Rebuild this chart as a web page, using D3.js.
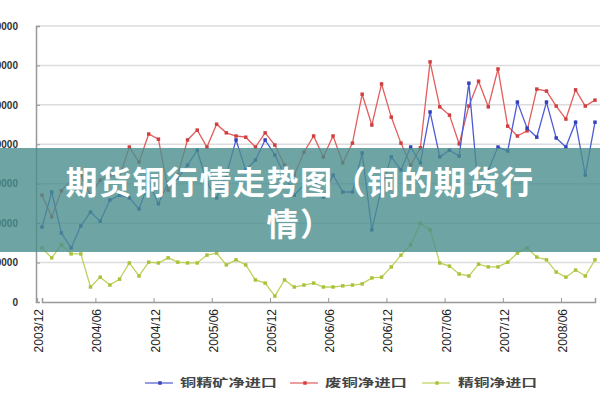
<!DOCTYPE html>
<html><head><meta charset="utf-8">
<script src="https://cdn.jsdelivr.net/npm/d3@7"></script>
<style>html,body{margin:0;padding:0;background:#fff;overflow:hidden}</style>
</head><body>
<svg id="c" width="600" height="400"></svg>
<script>
const tickLabels = ["2003/12","2004/06","2004/12","2005/06","2005/12","2006/06","2006/12","2007/06","2007/12","2008/06"];
const tickIndex = [0,6,12,18,24,30,36,42,48,54];
const yTicks = [0,100000,200000,300000,400000,500000,600000,700000];
// 铜精矿净进口 (tonnes)
const concentrate = [190000,279000,175000,137000,193000,228000,205000,259000,271000,264000,
 236000,302000,249000,302000,314000,347000,385000,302000,264000,322000,
 411000,335000,360000,411000,373000,322000,271000,297000,309000,266000,
 322000,279000,279000,378000,183000,289000,368000,335000,393000,353000,
 482000,368000,385000,370000,555000,276000,335000,393000,383000,507000,
 441000,418000,507000,416000,393000,456000,322000,456000];
// 废铜净进口
const scrap = [271000,216000,282000,309000,322000,271000,309000,322000,317000,393000,
 355000,426000,413000,284000,322000,411000,436000,393000,451000,429000,
 421000,418000,393000,429000,398000,347000,322000,380000,421000,368000,
 421000,353000,403000,527000,449000,553000,469000,403000,347000,391000,
 609000,495000,474000,401000,497000,560000,495000,591000,446000,421000,
 434000,540000,535000,497000,464000,538000,497000,512000];
// 精铜净进口
const refined = [137000,112000,145000,122000,122000,38000,63000,43000,58000,99000,
 66000,101000,99000,112000,101000,99000,99000,119000,124000,94000,
 107000,94000,56000,48000,15000,56000,38000,43000,48000,38000,
 38000,41000,43000,46000,61000,63000,89000,119000,145000,200000,
 183000,99000,91000,71000,66000,96000,89000,89000,101000,124000,
 137000,114000,107000,76000,63000,81000,66000,107000];
const seriesNames = ["铜精矿净进口","废铜净进口","精铜净进口"];
const seriesColors = ["#4d5bd6","#e35d5d","#bcd35a"];
const markerColors = ["#3340b8","#cf3f3f","#a9c23c"];
const titleLines = ["期货铜行情走势图（铜的期货行","情）"];

const svg = d3.select("#c");
const x = d3.scaleLinear().domain([0, 57]).range([42, 595]);
const y = d3.scaleLinear().domain([0, 700000]).range([302, 26]);

// gridlines
svg.append("g").selectAll("line").data(yTicks.slice(1)).join("line")
  .attr("x1", 36).attr("x2", 600).attr("y1", d => y(d)).attr("y2", d => y(d))
  .attr("stroke", "#dcdcdc").attr("stroke-width", 1.5);

// y axis
const yAxis = svg.append("g").attr("transform", "translate(36,0)")
  .call(d3.axisLeft(y).tickValues(yTicks).tickSize(-4).tickPadding(18).tickFormat(d3.format("d")));
yAxis.select(".domain").attr("stroke", "#999").attr("stroke-width", 1.5);
yAxis.selectAll(".tick line").attr("stroke", "#999");
yAxis.selectAll("text").attr("font-family", "Liberation Sans, Arial, sans-serif")
  .attr("font-size", 10).attr("font-weight", "bold").attr("fill", "#333");

// x axis
const xAxis = svg.append("g").attr("transform", "translate(0,302)")
  .call(d3.axisBottom(x).tickValues(tickIndex.map(i => i - 0.5)).tickSize(-4).tickFormat(""));
xAxis.select(".domain").attr("stroke", "#999").attr("stroke-width", 1.5);
xAxis.selectAll(".tick line").attr("stroke", "#999");
svg.append("g").selectAll("text").data(tickIndex).join("text")
  .attr("transform", (d) => `translate(${x(d) - 3},309) rotate(-90)`)
  .attr("text-anchor", "end").attr("dy", "0.35em")
  .attr("font-family", "Liberation Sans, Arial, sans-serif").attr("font-size", 12)
  .attr("fill", "#222").text((d, i) => tickLabels[i]);

// series
const all = [concentrate, scrap, refined];
const line = d3.line().x((d, i) => x(i)).y(d => y(d));
const sym = d3.symbol().type(d3.symbolSquare).size(12);
[1, 0, 2].forEach(k => {
  const g = svg.append("g");
  g.append("path").datum(all[k]).attr("d", line).attr("fill", "none")
    .attr("stroke", seriesColors[k]).attr("stroke-width", 1.3);
  g.selectAll("path.m").data(all[k]).join("path").attr("class", "m")
    .attr("d", sym).attr("transform", (d, i) => `translate(${x(i)},${y(d)})`)
    .attr("fill", markerColors[k]);
});

// legend
const legX = [145, 290, 422];
const legTextX = [180, 325, 458];
const legW = [97, 82, 79];
const lg = svg.append("g");
seriesNames.forEach((n, k) => {
  lg.append("line").attr("x1", legX[k]).attr("x2", legX[k] + 28).attr("y1", 383).attr("y2", 383)
    .attr("stroke", seriesColors[k]).attr("stroke-width", 1.2);
  lg.append("path").attr("d", sym).attr("transform", `translate(${legX[k] + 15},383)`).attr("fill", markerColors[k]);
  lg.append("text").attr("x", legTextX[k]).attr("y", 383).attr("dy", "0.35em")
    .attr("font-family", "Noto Sans CJK SC").attr("font-size", 11).attr("font-weight", "bold")
    .attr("fill", "#444").attr("textLength", legW[k]).attr("lengthAdjust", "spacingAndGlyphs").text(n);
});

// banner overlay
svg.append("rect").attr("x", 0).attr("y", 148).attr("width", 600).attr("height", 104)
  .attr("fill", "#4a8f8d").attr("opacity", 0.8);
svg.append("g").selectAll("text").data(titleLines).join("text")
  .attr("x", 300).attr("y", (d, i) => 180 + i * 42).attr("text-anchor", "middle")
  .attr("dominant-baseline", "central")
  .attr("font-family", "Noto Sans CJK SC").attr("font-weight", "bold").attr("font-size", 32)
  .attr("letter-spacing", "1.5px").attr("fill", "#fff").text(d => d);
</script>
</body></html>
